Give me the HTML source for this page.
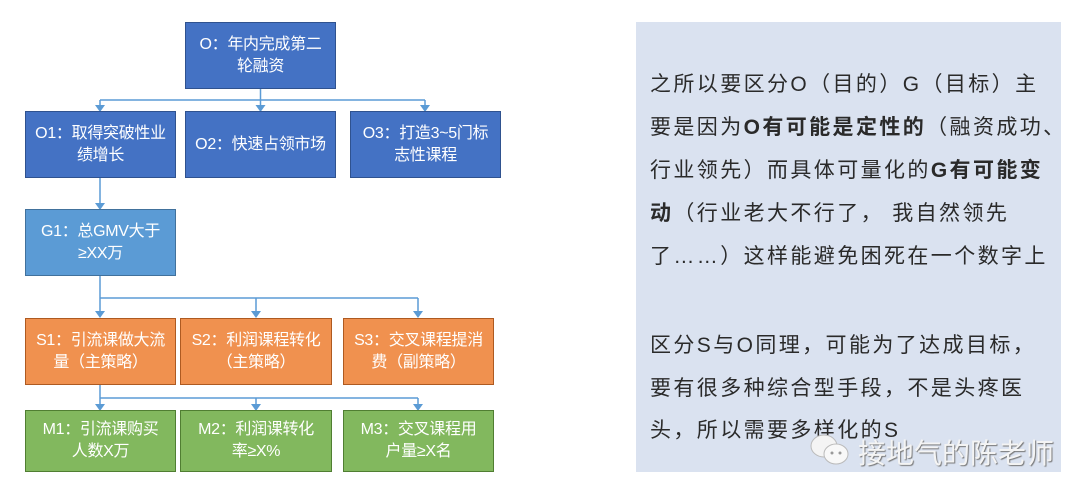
<!DOCTYPE html>
<html><head><meta charset="utf-8"><style>
body{margin:0;width:1080px;height:498px;background:#fff;position:relative;overflow:hidden;font-family:"Liberation Sans","Noto Sans CJK SC",sans-serif}
.b{position:absolute;box-sizing:border-box;display:flex;align-items:center;justify-content:center;text-align:center;color:#fff;font-size:16px;line-height:22px;padding:0;white-space:nowrap;letter-spacing:-0.3px}
.o{background:#4472c4;border:1.5px solid #2f528f}
.g{background:#5b9bd5;border:1.5px solid #41719c}
.s{border:1.5px solid #ae5a21;background:#f0914f}
.m{border:1.5px solid #507e32;background:#82b85e}
.panel{position:absolute;left:636px;top:22px;width:425px;height:450px;background:#dae2f0}
.t{position:absolute;left:650px;font-size:21px;letter-spacing:2.4px;color:#2a2a2a;white-space:nowrap}
</style></head><body>
<svg width="600" height="498" style="position:absolute;left:0;top:0">
<g stroke="#5b9bd5" stroke-width="1.5" fill="none">
<path d="M260.5 89V104M100 100H425M100 100V106M260.5 100V106M425 100V106"/>
<path d="M100 178V204"/>
<path d="M100 276V312M100 298H418M256 298V312M418 298V312"/>
<path d="M100 385V405M100 398H418M256 398V405M418 398V405"/>
</g>
<g fill="#5b9bd5">
<path d="M95 105h10l-5 7z"/><path d="M255.5 105h10l-5 7z"/><path d="M420 105h10l-5 7z"/>
<path d="M95 203h10l-5 7z"/>
<path d="M95 311h10l-5 7z"/><path d="M251 311h10l-5 7z"/><path d="M413 311h10l-5 7z"/>
<path d="M95 404h10l-5 7z"/><path d="M251 404h10l-5 7z"/><path d="M413 404h10l-5 7z"/>
</g></svg>
<div class="b o" style="left:185px;top:22px;width:151px;height:67px">O：年内完成第二<br>轮融资</div>
<div class="b o" style="left:25px;top:111px;width:151px;height:67px">O1：取得突破性业<br>绩增长</div>
<div class="b o" style="left:185px;top:111px;width:151px;height:67px">O2：快速占领市场</div>
<div class="b o" style="left:350px;top:111px;width:151px;height:67px">O3：打造3~5门标<br>志性课程</div>
<div class="b g" style="left:25px;top:209px;width:151px;height:67px">G1：总GMV大于<br>≥XX万</div>
<div class="b s" style="left:25px;top:318px;width:151px;height:67px">S1：引流课做大流<br>量（主策略）</div>
<div class="b s" style="left:180px;top:318px;width:152px;height:67px">S2：利润课程转化<br>（主策略）</div>
<div class="b s" style="left:343px;top:318px;width:151px;height:67px">S3：交叉课程提消<br>费（副策略）</div>
<div class="b m" style="left:25px;top:410px;width:151px;height:62px">M1：引流课购买<br>人数X万</div>
<div class="b m" style="left:180px;top:410px;width:152px;height:62px">M2：利润课转化<br>率≥X%</div>
<div class="b m" style="left:343px;top:410px;width:151px;height:62px">M3：交叉课程用<br>户量≥X名</div>
<div class="panel"></div>
<div class="t" style="top:68px">之所以要区分O（目的）G（目标）主</div>
<div class="t" style="top:111px">要是因为<b>O有可能是定性的</b>（融资成功、</div>
<div class="t" style="top:154px">行业领先）而具体可量化的<b>G有可能变</b></div>
<div class="t" style="top:197px"><b>动</b>（行业老大不行了， 我自然领先</div>
<div class="t" style="top:240px">了……）这样能避免困死在一个数字上</div>
<div class="t" style="top:329px">区分S与O同理，可能为了达成目标，</div>
<div class="t" style="top:372px">要有很多种综合型手段，不是头疼医</div>
<div class="t" style="top:414px">头，所以需要多样化的S</div>
<svg width="44" height="34" style="position:absolute;left:808px;top:432px"><ellipse cx="16" cy="14" rx="13" ry="11" fill="#f4f4f4" stroke="#bbb"/><ellipse cx="28" cy="22" rx="12" ry="10" fill="#f8f8f8" stroke="#bbb"/><circle cx="24" cy="21" r="1.5" fill="#999"/><circle cx="32" cy="21" r="1.5" fill="#999"/></svg>
<div style="position:absolute;left:858px;top:432px;font-size:28px;color:#f4f4f4;text-shadow:1px 1px 1px #777;white-space:nowrap;font-family:'Liberation Sans','Noto Sans CJK SC',sans-serif">接地气的陈老师</div>
</body></html>
